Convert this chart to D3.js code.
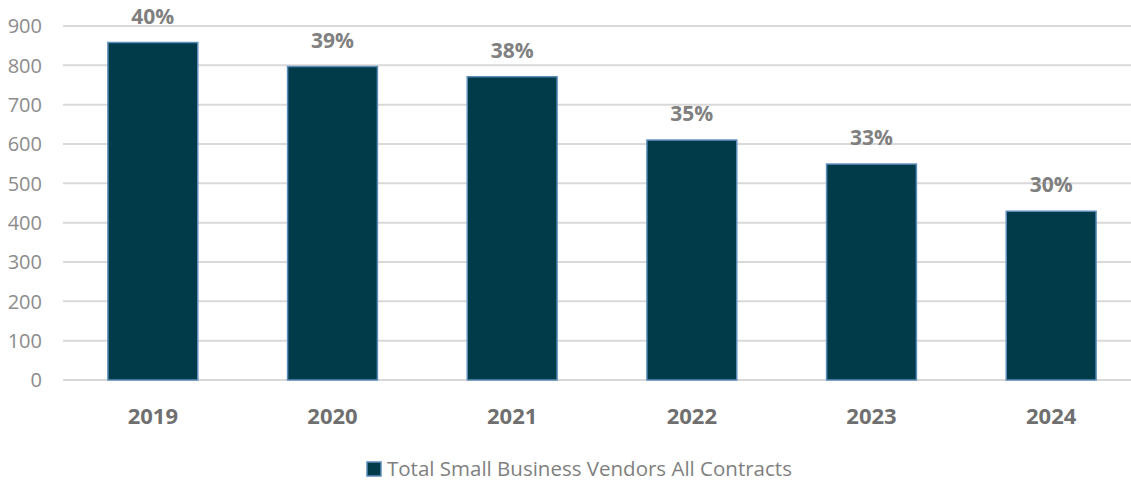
<!DOCTYPE html>
<html><head><meta charset="utf-8">
<script src="https://cdn.jsdelivr.net/npm/d3@7"></script>
<style>body{margin:0;background:#fff;} svg{display:block;font-family:"Open Sans",sans-serif;}</style>
</head><body><svg id="c" width="1131" height="482"></svg>
<script>
const categories = ["2019","2020","2021","2022","2023","2024"];
const values = [858, 797, 771, 610, 549, 429];
const pctLabels = ["40%","39%","38%","35%","33%","30%"];
const yTicks = [0,100,200,300,400,500,600,700,800,900];
const seriesName = "Total Small Business Vendors All Contracts";

const svg = d3.select("#c");
const x = d3.scaleBand().domain(categories).range([63, 1141]).paddingInner(0.5).paddingOuter(0.25);
const y = d3.scaleLinear().domain([0, 900]).range([380, 26]);

// gridlines
svg.append("g").selectAll("line").data(yTicks).join("line")
  .attr("x1", 63).attr("x2", 1141)
  .attr("y1", d => y(d)).attr("y2", d => y(d))
  .attr("stroke", "#d9d9d9").attr("stroke-width", 2);

// y tick labels
svg.append("g").selectAll("text").data(yTicks).join("text")
  .attr("x", 42).attr("y", d => y(d)).attr("dy", "0.36em")
  .attr("text-anchor", "end").attr("font-size", 20).attr("fill", "#8c8c8c")
  .text(d => d);

// bars
svg.append("g").selectAll("rect").data(categories).join("rect")
  .attr("x", d => x(d)).attr("width", x.bandwidth())
  .attr("y", (d,i) => y(values[i])).attr("height", (d,i) => y(0) - y(values[i]))
  .attr("fill", "#013a48").attr("stroke", "#5b8dbb").attr("stroke-width", 1.5);

// data labels
svg.append("g").selectAll("text").data(categories).join("text")
  .attr("x", d => x(d) + x.bandwidth()/2).attr("y", (d,i) => y(values[i]) - 19)
  .attr("text-anchor", "middle").attr("font-size", 21).attr("font-weight", "bold").attr("fill", "#808080")
  .text((d,i) => pctLabels[i]);

// x labels
svg.append("g").selectAll("text").data(categories).join("text")
  .attr("x", d => x(d) + x.bandwidth()/2).attr("y", 424)
  .attr("text-anchor", "middle").attr("font-size", 22).attr("font-weight", "bold").attr("fill", "#6f6f6f")
  .text(d => d);

// legend
const lg = svg.append("g");
lg.append("rect").attr("x", 367).attr("y", 462).attr("width", 14).attr("height", 14)
  .attr("fill", "#013a48").attr("stroke", "#5b8dbb").attr("stroke-width", 1.5);
lg.append("text").attr("x", 387).attr("y", 476).attr("font-size", 20.5).attr("fill", "#7f7f7f").text(seriesName);
</script></body></html>
